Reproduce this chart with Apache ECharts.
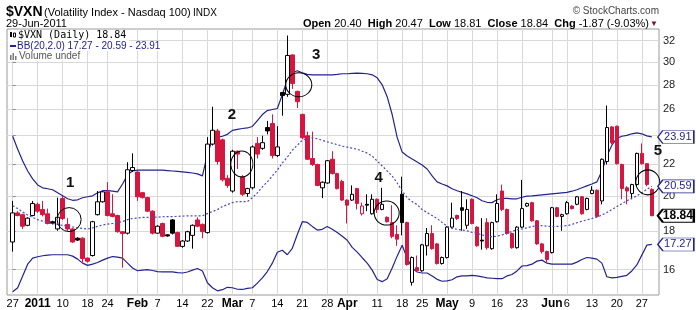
<!DOCTYPE html>
<html><head><meta charset="utf-8">
<script src="https://cdn.jsdelivr.net/npm/echarts@6/dist/echarts.min.js"></script>
<style>html,body{margin:0;padding:0;background:#fff}#c{width:696px;height:310px}</style>
</head><body><div id="c"></div>
<script>
// ---- data ----
const xTickIdx = [0,5,10,15,19,25,29,34,39,44,48,53,58,63,67,73,78,82,87,92,97,102,108,111,116,121,126];
const xTickLabels = ['27','2011','10','18','24','Feb','7','14','22','Mar','7','14','21','28','Apr','11','18','25','May','9','16','23','Jun','6','13','20','27'];
const boldLabels = ['2011','Feb','Mar','Apr','May','Jun'];
const yTicks = [16,18,20,22,24,26,28,30,32];

const open = [17.4,19.0,18.9,18.3,18.85,19.5,19.2,18.95,18.5,18.1,19.85,18.35,18.1,17.6,17.6,16.57,16.7,18.9,19.65,20.25,
18.95,18.85,17.95,17.87,21.6,21.5,20.2,19.9,19.1,17.87,18.4,17.78,18.6,17.9,17.17,17.45,17.75,18.6,18.35,17.9,
23.4,24.35,23.7,21.1,20.3,22.9,21.2,20.15,20.5,23.45,23.1,24.6,24.9,22.6,27.35,27.2,30.65,27.45,25.6,24.0,
22.4,22.0,20.5,20.8,22.35,21.4,20.9,19.75,19.75,20.45,18.95,19.5,18.95,19.8,19.2,18.75,18.45,17.8,20.1,18.45,
15.4,16.1,15.95,17.2,17.85,17.3,16.3,16.6,18.2,18.85,19.3,18.3,19.8,18.2,17.5,18.45,17.05,18.5,20.3,19.2,
17.85,17.1,18.2,19.4,19.6,18.55,17.3,16.9,16.85,19.3,18.8,18.95,19.4,19.5,19.95,19.2,20.15,20.35,19.7,22.2,
24.65,24.7,22.0,20.5,20.15,20.7,22.75,22.05,20.40];
const close = [19.0,18.85,18.25,18.7,19.55,19.1,18.9,18.4,18.42,18.75,18.68,18.1,17.4,17.5,16.55,16.42,18.5,19.65,20.25,18.85,
18.8,17.95,17.85,21.65,21.8,19.95,19.9,19.1,17.87,18.25,17.7,17.72,17.87,17.17,17.45,17.95,18.3,18.25,17.95,23.4,
24.4,22.2,21.0,20.65,22.9,22.7,20.1,20.45,23.2,22.7,23.5,24.35,22.6,23.2,27.1,30.6,28.1,26.6,23.85,22.35,
22.0,20.65,20.85,22.25,21.4,20.45,19.75,19.45,20.1,19.55,19.4,19.45,19.8,19.2,19.5,18.5,17.7,17.55,18.45,16.25,
16.6,15.95,17.25,17.85,17.05,16.3,16.6,18.2,18.7,18.68,19.15,19.2,18.4,17.2,17.45,17.1,18.45,19.55,19.2,17.85,
17.1,18.2,19.25,19.55,18.55,17.3,16.9,16.5,19.3,18.8,18.9,19.6,19.25,19.95,18.95,19.85,20.35,18.8,22.35,24.6,
23.5,22.05,20.45,20.3,20.7,22.75,22.05,20.71,18.84];
const low = [16.9,18.8,18.1,18.25,18.8,19.0,18.8,18.35,18.35,18.0,18.6,18.0,17.35,17.45,16.35,16.35,16.65,18.85,19.6,18.8,
18.75,17.9,16.1,17.8,21.5,19.7,19.85,19.05,17.8,17.85,17.65,17.68,17.8,17.15,17.1,17.4,17.05,18.2,17.6,17.85,
23.3,22.0,20.9,20.5,20.2,21.7,20.0,19.95,20.4,22.4,23.0,24.1,22.4,22.5,25.5,27.0,27.65,26.1,23.75,22.3,
21.9,20.6,19.87,20.75,21.35,20.4,19.7,18.4,19.7,19.2,18.85,19.1,18.9,19.0,19.15,18.45,17.6,17.2,17.75,16.2,
15.25,15.9,15.9,16.7,17.0,16.25,16.25,16.55,18.15,18.6,18.0,18.1,18.35,17.15,17.0,17.0,17.0,18.45,19.1,17.8,
17.05,17.05,18.15,19.35,18.5,17.25,16.8,16.35,16.8,18.75,18.0,18.9,19.2,19.45,18.9,19.15,20.1,18.75,19.5,22.0,
23.4,22.0,19.8,19.5,19.8,20.6,22.0,20.6,18.81];
const high = [19.7,19.1,18.95,18.75,19.7,19.6,19.7,19.25,18.55,19.9,20.0,18.7,18.15,17.65,17.65,16.6,18.55,20.3,20.3,20.85,
20.1,18.9,17.95,22.15,22.75,21.55,20.25,19.95,19.15,18.3,18.45,17.8,18.65,17.95,17.5,18.0,18.35,18.75,18.4,23.9,
26.2,24.5,23.8,21.3,23.0,22.95,21.3,20.5,23.3,23.9,24.0,25.1,25.6,24.7,27.4,32.5,30.7,27.5,25.65,24.3,
24.3,22.05,20.9,22.3,22.9,21.45,21.0,19.8,20.65,20.5,19.6,20.1,20.1,19.85,20.5,18.8,19.45,18.3,21.2,18.5,
16.65,16.7,17.3,18.15,18.3,17.35,16.65,18.25,19.6,18.9,20.3,19.8,19.85,18.25,18.7,18.7,18.5,20.1,20.7,19.25,
17.9,18.25,21.0,19.6,19.65,18.6,17.35,16.95,19.35,19.35,18.95,19.7,19.45,20.0,20.0,19.9,20.6,20.4,22.4,26.3,
24.7,24.75,22.05,20.6,20.75,22.8,23.45,22.1,20.47];

const bbUpper = [23.96,23.04,22.23,21.57,21.06,20.68,20.50,20.44,20.38,20.19,20.01,19.83,19.74,19.77,19.89,19.95,20.01,20.19,20.32,20.32,
20.29,20.25,20.74,21.32,21.57,21.63,21.63,21.63,21.63,21.63,21.63,21.60,21.57,21.54,21.51,21.48,21.44,21.38,21.25,22.70,
23.74,23.88,23.96,24.10,24.39,24.46,24.53,24.57,24.68,25.13,25.59,25.90,25.98,26.06,27.17,28.43,29.04,29.21,29.04,28.90,
28.86,28.86,28.86,28.86,28.86,28.90,28.95,28.95,28.99,29.01,28.99,28.95,28.86,28.60,28.00,27.01,25.59,23.88,22.84,22.57,
22.36,22.16,21.96,21.70,21.25,20.87,20.74,20.62,20.44,20.32,20.22,20.13,20.01,19.89,19.71,19.62,19.60,19.77,19.86,19.86,
19.83,19.83,19.92,19.99,20.01,20.04,20.07,20.10,20.13,20.16,20.19,20.22,20.29,20.38,20.50,20.62,20.74,20.87,21.57,22.57,
23.32,23.81,23.96,24.03,24.14,24.21,24.14,23.99,23.91];
const bbMiddle = [19.42,19.25,19.05,18.88,18.74,18.62,18.53,18.46,18.40,18.35,18.29,18.27,18.21,18.16,18.13,18.09,18.16,18.24,18.32,18.37,
18.40,18.46,18.51,18.62,18.68,18.71,18.74,18.75,18.76,18.76,18.78,18.79,18.79,18.80,18.82,18.83,18.83,18.83,18.83,18.96,
19.08,19.19,19.37,19.48,19.60,19.66,19.66,19.66,19.89,20.19,20.56,20.87,21.25,21.63,22.10,22.49,22.97,23.32,23.67,23.81,
23.85,23.78,23.67,23.56,23.46,23.36,23.25,23.18,23.11,23.04,22.90,22.77,22.57,22.23,21.90,21.57,21.25,20.80,20.32,19.89,
19.66,19.48,19.19,19.02,18.85,18.68,18.46,18.24,18.13,18.08,18.04,18.00,17.91,17.86,17.78,17.70,17.68,17.71,17.77,17.86,
17.97,18.05,18.10,18.16,18.23,18.28,18.28,18.25,18.23,18.24,18.26,18.28,18.35,18.44,18.53,18.60,18.68,18.76,18.88,19.02,
19.19,19.37,19.54,19.71,19.86,20.01,20.19,20.41,20.59];
const bbLower = [14.97,15.15,15.70,16.27,16.57,16.64,16.69,16.72,16.74,16.74,16.74,16.74,16.67,16.52,16.32,16.21,16.27,16.35,16.47,16.57,
16.65,16.62,16.57,16.32,16.08,15.95,15.98,16.00,15.96,15.91,15.89,15.89,15.89,15.86,15.84,15.89,15.98,16.06,15.94,15.38,
15.15,15.01,15.06,15.17,15.15,15.08,15.07,15.12,15.15,15.36,15.61,15.91,16.32,16.87,16.97,16.74,17.07,17.80,18.50,18.46,
18.24,18.04,18.08,18.23,18.08,17.91,17.70,17.49,17.12,16.87,16.59,16.32,15.98,15.53,15.43,15.57,16.08,16.67,17.23,16.57,
16.08,15.89,15.84,15.84,15.70,15.54,15.45,15.47,15.52,15.66,15.70,15.70,15.73,15.70,15.66,15.61,15.59,15.57,15.57,15.70,
15.77,15.94,16.18,16.20,16.27,16.42,16.47,16.32,16.27,16.27,16.27,16.27,16.27,16.37,16.50,16.60,16.57,16.52,16.32,15.66,
15.61,15.63,15.68,15.73,15.94,16.23,16.72,17.23,17.27];

const annotText = ['1','2','3','4','5'];
const annotTextAt = [[11.5,20.8],[43.9,25.6],[60.8,30.65],[73.3,21.1],[129.2,22.9]];
const annotCircleAt = [[11.3,18.62],[45.9,22.03],[57.3,28.0],[74.9,18.99],[127.2,20.84]];

// ---- styles ----
const RED = '#d6163e', BLK = '#000', NAVY = '#23238f', MID = '#4b4bc2';
const FONT = '"Liberation Sans", Arial, sans-serif';
const circleSizes = [[24,24],[22,26],[26,24],[25,24],[24,25]];

const N = open.length;
const candleData = open.map((o, i) => {
  const c = close[i];
  const prev = i > 0 ? close[i - 1] : o;
  const col = c < prev ? RED : BLK;
  const up = c > o;
  return {
    value: [i, o, c, low[i], high[i]],
    itemStyle: up ? { color: '#fff', borderColor: col } : { color0: col, borderColor0: col }
  };
});
const toLine = arr => arr.map((v, i) => [i, v]);

function tag(v, color, bold) {
  return {
    coord: [N - 1, v],
    symbol: 'path://M0,6L5,0L36,0L36,12L5,12Z',
    symbolSize: [36, 13],
    symbolKeepAspect: false,
    symbolOffset: [24, 0],
    itemStyle: { color: '#fff', borderColor: color, borderWidth: bold ? 1.5 : 1 },
    label: { show: true, position: 'inside', offset: [2, 0], color: color, fontFamily: FONT,
      fontSize: bold ? 12 : 11, fontWeight: bold ? 'bold' : 'normal', formatter: v.toFixed(2) }
  };
}
const markData = [];
annotCircleAt.forEach((p, k) => markData.push({
  coord: p, symbol: 'circle', symbolSize: circleSizes[k],
  itemStyle: { color: 'rgba(0,0,0,0)', borderColor: '#000', borderWidth: 1 }, label: { show: false }
}));
annotTextAt.forEach((p, k) => markData.push({
  coord: p, symbol: 'circle', symbolSize: 1, itemStyle: { color: 'rgba(0,0,0,0)' },
  label: { show: true, position: 'inside', formatter: annotText[k], fontFamily: FONT,
    fontSize: 15, fontWeight: 'bold', color: '#111' }
}));
markData.push(tag(bbUpper[N - 1], NAVY, false));
markData.push(tag(bbMiddle[N - 1], NAVY, false));
markData.push(tag(bbLower[N - 1], NAVY, false));
markData.push(tag(close[N - 1], '#000', true));

const G = (o) => Object.assign({ z: 100 }, o);

const chart = echarts.init(document.getElementById('c'), null, { renderer: 'canvas' });
chart.setOption({
  animation: false,
  backgroundColor: '#fff',
  grid: { left: 7, top: 29, width: 652, height: 267, show: true, borderColor: '#9a9a9a', borderWidth: 1, backgroundColor: '#fff' },
  xAxis: {
    type: 'value', min: -1.142, max: 129.44,
    axisLine: { show: false },
    axisTick: { show: false, customValues: xTickIdx },
    splitLine: { show: true, lineStyle: { color: '#d9d9d9', width: 1 } },
    axisLabel: {
      customValues: xTickIdx, margin: 3, color: '#000', fontFamily: FONT, fontSize: 11,
      formatter: v => {
        const t = xTickLabels[xTickIdx.indexOf(Math.round(v))];
        return boldLabels.indexOf(t) >= 0 ? '{b|' + t + '}' : t;
      },
      rich: { b: { fontWeight: 'bold', fontFamily: FONT, fontSize: 12, color: '#000' } }
    }
  },
  yAxis: {
    type: 'log', position: 'right', min: 14.82, max: 33.15,
    axisLine: { show: false },
    axisTick: { show: true, customValues: yTicks, length: 3, lineStyle: { color: '#888' } },
    splitLine: { show: true, lineStyle: { color: '#d9d9d9', width: 1 } },
    axisLabel: { customValues: yTicks, margin: 4, color: '#222', fontFamily: FONT, fontSize: 11,
      formatter: v => String(Math.round(v)) }
  },
  series: [
    { type: 'line', data: toLine(bbUpper), symbol: 'none', lineStyle: { color: NAVY, width: 1.2 }, z: 2 },
    { type: 'line', data: toLine(bbLower), symbol: 'none', lineStyle: { color: NAVY, width: 1.2 }, z: 2 },
    { type: 'candlestick', data: candleData, barWidth: 4, z: 3,
      itemStyle: { color: '#fff', color0: RED, borderColor: BLK, borderColor0: RED, borderWidth: 1 } },
    { type: 'line', data: toLine(bbMiddle), symbol: 'none', clip: false, z: 4,
      lineStyle: { color: MID, width: 1.2, type: [2, 2] },
      markPoint: { data: markData, animation: false } }
  ],
  graphic: [
    G({ type: 'text', x: 6, y: 12, style: { text: '$VXN', font: 'bold 14px ' + FONT, fill: '#000', verticalAlign: 'middle' } }),
    G({ type: 'text', x: 44, y: 13, style: { text: '(Volatility Index - Nasdaq 100)', font: '11px ' + FONT, fill: '#000', verticalAlign: 'middle' } }),
    G({ type: 'text', x: 193, y: 13, style: { text: 'INDX', font: '10px ' + FONT, fill: '#000', verticalAlign: 'middle' } }),
    G({ type: 'text', x: 6, y: 23.5, style: { text: '29-Jun-2011', font: '11px ' + FONT, fill: '#000', verticalAlign: 'middle' } }),
    G({ type: 'text', x: 659, y: 11, style: { text: '\u00a9 StockCharts.com', font: '10px ' + FONT, fill: '#444', align: 'right', verticalAlign: 'middle' } }),
    G({ type: 'text', x: 649, y: 23.5, style: {
        text: '{b|Open} 20.40  {b|High} 20.47  {b|Low} 18.81  {b|Close} 18.84  {b|Chg} -1.87 (-9.03%)',
        font: '11px ' + FONT, fill: '#000', align: 'right', verticalAlign: 'middle',
        rich: { b: { fontWeight: 'bold', fontSize: 11, fontFamily: FONT } } } }),
    G({ type: 'text', x: 650, y: 23.5, style: { text: '\u25bc', font: '8px ' + FONT, fill: '#8b0a2a', verticalAlign: 'middle' } }),
    // legend
    G({ type: 'rect', shape: { x: 8, y: 30, width: 121, height: 11 }, style: { fill: '#fff' } }),
    G({ type: 'rect', shape: { x: 8, y: 41, width: 152, height: 10 }, style: { fill: '#fff' } }),
    G({ type: 'rect', shape: { x: 8, y: 51, width: 77, height: 10 }, style: { fill: '#fff' } }),
    G({ type: 'rect', shape: { x: 10, y: 32, width: 2, height: 5 }, style: { fill: '#000' } }),
    G({ type: 'rect', shape: { x: 13.5, y: 33, width: 2, height: 4 }, style: { fill: '#fff', stroke: '#000', lineWidth: 1 } }),
    G({ type: 'text', x: 18, y: 35.5, style: { text: '$VXN (Daily) 18.84', font: '10px "DejaVu Sans Mono", monospace', fill: '#000', verticalAlign: 'middle' } }),
    G({ type: 'line', shape: { x1: 10, y1: 46, x2: 16, y2: 46 }, style: { stroke: NAVY, lineWidth: 2 } }),
    G({ type: 'text', x: 17, y: 46, style: { text: 'BB(20,2.0) 17.27 - 20.59 - 23.91', font: '10px ' + FONT, fill: NAVY, verticalAlign: 'middle' } }),
    G({ type: 'rect', shape: { x: 10, y: 55, width: 1.5, height: 5 }, style: { fill: '#777' } }),
    G({ type: 'rect', shape: { x: 12.5, y: 53, width: 1.5, height: 7 }, style: { fill: '#777' } }),
    G({ type: 'rect', shape: { x: 15, y: 56, width: 1.5, height: 4 }, style: { fill: '#777' } }),
    G({ type: 'text', x: 19, y: 56, style: { text: 'Volume undef', font: '10px ' + FONT, fill: '#555', verticalAlign: 'middle' } })
  ]
});
</script></body></html>
